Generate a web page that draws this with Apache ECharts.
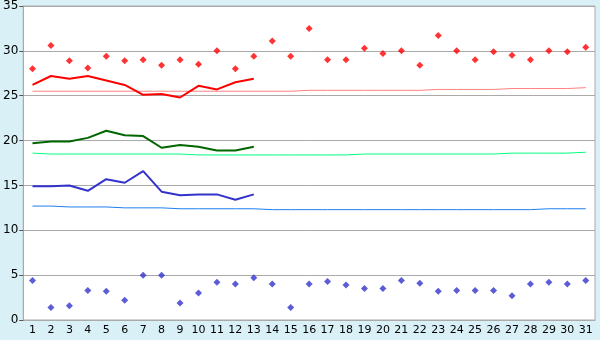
<!DOCTYPE html>
<html>
<head>
<meta charset="utf-8">
<script src="https://cdn.jsdelivr.net/npm/echarts@6/dist/echarts.min.js"></script>
<style>
  html, body { margin: 0; padding: 0; background: #d9f0f7; }
  #chart { width: 600px; height: 340px; }
</style>
</head>
<body>
<div id="chart"></div>
<script>
// ——— 数据 ———
const days = Array.from({ length: 31 }, (_, i) => String(i + 1));

const maxPoints = [28.0, 30.6, 28.9, 28.1, 29.4, 28.9, 29.0, 28.4, 29.0, 28.5,
                   30.0, 28.0, 29.4, 31.1, 29.4, 32.5, 29.0, 29.0, 30.3, 29.7,
                   30.0, 28.4, 31.7, 30.0, 29.0, 29.9, 29.5, 29.0, 30.0, 29.9, 30.4];
const minPoints = [4.4, 1.4, 1.6, 3.3, 3.2, 2.2, 5.0, 5.0, 1.9, 3.0,
                   4.2, 4.0, 4.7, 4.0, 1.4, 4.0, 4.3, 3.9, 3.5, 3.5,
                   4.4, 4.1, 3.2, 3.3, 3.3, 3.3, 2.7, 4.0, 4.2, 4.0, 4.4];

const maxLine  = [26.2, 27.2, 26.9, 27.2, 26.7, 26.2, 25.1, 25.2, 24.8, 26.1, 25.7, 26.5, 26.9];
const meanLine = [19.7, 19.9, 19.9, 20.3, 21.1, 20.6, 20.5, 19.2, 19.5, 19.3, 18.9, 18.9, 19.3];
const minLine  = [14.9, 14.9, 15.0, 14.4, 15.7, 15.3, 16.6, 14.3, 13.9, 14.0, 14.0, 13.4, 14.0];

const normalMax  = [25.5, 25.5, 25.5, 25.5, 25.5, 25.5, 25.5, 25.5, 25.5, 25.5,
                    25.5, 25.5, 25.5, 25.5, 25.5, 25.6, 25.6, 25.6, 25.6, 25.6,
                    25.6, 25.6, 25.7, 25.7, 25.7, 25.7, 25.8, 25.8, 25.8, 25.8, 25.9];
const normalMean = [18.6, 18.5, 18.5, 18.5, 18.5, 18.5, 18.5, 18.5, 18.5, 18.4,
                    18.4, 18.4, 18.4, 18.4, 18.4, 18.4, 18.4, 18.4, 18.5, 18.5,
                    18.5, 18.5, 18.5, 18.5, 18.5, 18.5, 18.6, 18.6, 18.6, 18.6, 18.7];
const normalMin  = [12.7, 12.7, 12.6, 12.6, 12.6, 12.5, 12.5, 12.5, 12.4, 12.4,
                    12.4, 12.4, 12.4, 12.3, 12.3, 12.3, 12.3, 12.3, 12.3, 12.3,
                    12.3, 12.3, 12.3, 12.3, 12.3, 12.3, 12.3, 12.3, 12.4, 12.4, 12.4];

const yTicks = { min: 0, max: 35, interval: 5 };

// ——— 图表 ———
const chart = echarts.init(document.getElementById('chart'));

const line = (data, color, width) => ({
  type: 'line', data, symbol: 'none', silent: true, animation: false,
  lineStyle: { color, width }
});
const dots = (data, color) => ({
  type: 'scatter', data, symbol: 'diamond', symbolSize: 7, animation: false,
  itemStyle: { color }
});

chart.setOption({
  backgroundColor: '#d9f0f7',
  textStyle: { fontFamily: 'DejaVu Sans' },
  grid: {
    left: 20, right: 5, top: 5, bottom: 20,
    show: true, backgroundColor: '#fff', borderColor: '#aaa', borderWidth: 1
  },
  xAxis: {
    type: 'category', data: days, boundaryGap: true,
    axisLine: { lineStyle: { color: '#aaa' } },
    axisTick: { alignWithLabel: true, length: 4, lineStyle: { color: '#555' } },
    axisLabel: { color: '#000', fontSize: 11, margin: 5, interval: 0 },
    splitLine: { show: false }
  },
  yAxis: {
    type: 'value', ...yTicks,
    axisLine: { show: true, lineStyle: { color: '#aaa' } },
    axisTick: { show: true, length: 4, lineStyle: { color: '#555' } },
    axisLabel: { color: '#000', fontSize: 12, margin: 5 },
    splitLine: { lineStyle: { color: '#aaa' } }
  },
  series: [
    line(normalMax, '#ff8080', 1),
    line(normalMean, '#00ff80', 1),
    line(normalMin, '#1e80f0', 1),
    line(maxLine, '#ff0000', 2),
    line(meanLine, '#006600', 2),
    line(minLine, '#3333cc', 2),
    dots(maxPoints, '#ff0000'),
    dots(minPoints, '#3333cc')
  ]
});
</script>
</body>
</html>
